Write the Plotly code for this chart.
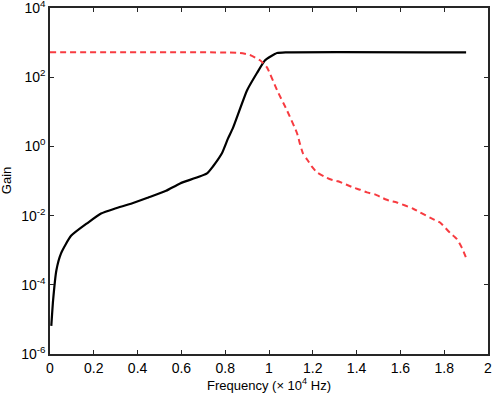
import plotly.graph_objects as go

# Frequency in units of 10^4 Hz
black_freq = [0.006, 0.014, 0.029, 0.05, 0.096, 0.174, 0.233, 0.297, 0.37, 0.447, 0.53,
              0.594, 0.717, 0.744, 0.785, 0.813, 0.836, 0.90, 0.945, 0.982, 1.037, 1.08, 1.9]
black_gain = [6.5e-6, 3.5e-5, 2.6e-4, 8.0e-4, 2.6e-3, 6.3e-3, 1.15e-2, 1.6e-2, 2.2e-2, 3.3e-2, 5.2e-2,
              8.5e-2, 0.166, 0.263, 0.63, 1.7, 3.5, 42, 132, 310, 500, 525, 525]

red_freq = [0.0, 0.868, 0.913, 0.959, 0.99, 1.037, 1.082, 1.128, 1.142, 1.155, 1.174, 1.196,
            1.219, 1.251, 1.283, 1.315, 1.352, 1.384, 1.416, 1.447, 1.484, 1.516, 1.548, 1.584,
            1.658, 1.735, 1.781, 1.826, 1.858, 1.881, 1.9]
red_gain = [525, 500, 436, 309, 195, 42, 11, 2.4, 1.15, 0.63, 0.42, 0.26,
            0.178, 0.135, 0.11, 0.098, 0.079, 0.065, 0.056, 0.047, 0.041, 0.033, 0.027, 0.024,
            0.0158, 0.0087, 0.0063, 0.0032, 0.0021, 0.00117, 0.0006]

x_ticks = [0, 0.2, 0.4, 0.6, 0.8, 1, 1.2, 1.4, 1.6, 1.8, 2]
x_labels = ["0", "0.2", "0.4", "0.6", "0.8", "1", "1.2", "1.4", "1.6", "1.8", "2"]
y_ticks = [1e-6, 1e-4, 1e-2, 1e0, 1e2, 1e4]
y_labels = ["10<sup>-6</sup>", "10<sup>-4</sup>", "10<sup>-2</sup>", "10<sup>0</sup>",
            "10<sup>2</sup>", "10<sup>4</sup>"]

fig = go.Figure()
fig.add_trace(go.Scatter(x=black_freq, y=black_gain, mode="lines",
                         line=dict(color="black", width=2.2, shape="spline", smoothing=0.5),
                         showlegend=False))
fig.add_trace(go.Scatter(x=red_freq, y=red_gain, mode="lines",
                         line=dict(color="#f73b40", width=2, dash="6px,4px", shape="spline", smoothing=0.5),
                         showlegend=False))

font = dict(family="Liberation Sans, Arial, sans-serif", size=14, color="black")
fig.update_layout(
    width=493, height=395,
    margin=dict(l=50, r=5, t=8, b=41),
    paper_bgcolor="white", plot_bgcolor="white",
    font=font,
    xaxis=dict(range=[0, 2], tickvals=x_ticks, ticktext=x_labels, ticks="inside", ticklen=4,
               mirror="ticks", showline=True, linecolor="#262626", linewidth=1.5,
               showgrid=False, zeroline=False, tickcolor="#262626", automargin=False,
               ticklabeloverflow="allow",
               title=dict(text="Frequency (× 10<sup>4</sup> Hz)", standoff=6, font=dict(size=13))),
    yaxis=dict(type="log", range=[-6, 4], tickvals=y_ticks, ticktext=y_labels, ticks="inside",
               ticklen=4, mirror="ticks", showline=True, linecolor="#262626", linewidth=1.5,
               showgrid=False, zeroline=False, tickcolor="#262626", automargin=False,
               ticklabeloverflow="allow"),
    annotations=[dict(text="Gain", textangle=-90, xref="paper", yref="paper",
                      x=-0.1, y=0.5, xanchor="center", yanchor="middle", showarrow=False,
                      font=dict(size=13))],
)
fig.write_html("out.html", config={"displayModeBar": False},
               post_script="document.body.style.margin='0';")
